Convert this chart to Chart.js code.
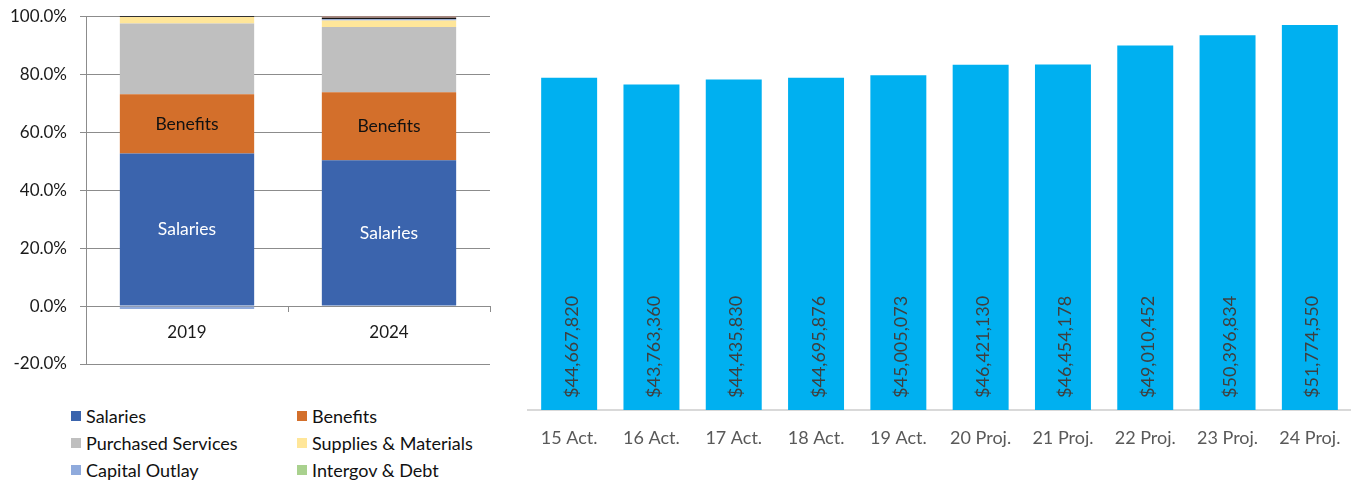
<!DOCTYPE html>
<html>
<head>
<meta charset="utf-8">
<title>Expenditures</title>
<script src="https://cdn.jsdelivr.net/npm/chart.js@4.4.1/dist/chart.umd.min.js"></script>
<style>
  body { margin: 0; width: 1351px; height: 482px; background: #fff; overflow: hidden; position: relative; font-family: Lato, sans-serif; }
  #mixBox { position: absolute; left: 0; top: -7px; width: 500px; height: 396px; }
  #totalBox { position: absolute; left: 500px; top: 0; width: 851px; height: 482px; }
  #mixLegend { position: absolute; left: 71px; top: 402px; display: grid; grid-template-columns: 226px 200px; }
  .item { display: flex; align-items: center; height: 27px; font-size: 18px; color: #111; white-space: nowrap; }
  .sw { width: 10px; height: 10px; margin-right: 5px; flex: none; }
</style>
</head>
<body>
<div id="mixBox"><canvas id="mixChart"></canvas></div>
<div id="mixLegend"></div>
<div id="totalBox"><canvas id="totalChart"></canvas></div>
<script>
// ---- share of spending by object (percent of total) ----
const years = ["2019", "2024"];
const salaries = [52.6, 50.3];
const benefits = [20.5, 23.5];
const purchasedServices = [24.4, 22.5];
const suppliesMaterials = [2.2, 2.2];
const capitalOutlay = [-1.0, 0.45];
const otherObjects = [0.5, 0.55];
const transfers = [0.0, 0.5];
const intergovDebt = [0.8, 0.0];
const pctTicks = [-20, 0, 20, 40, 60, 80, 100];

// ---- total expenditures by year ----
const periods = ["15 Act.", "16 Act.", "17 Act.", "18 Act.", "19 Act.",
                 "20 Proj.", "21 Proj.", "22 Proj.", "23 Proj.", "24 Proj."];
const expenditures = [44667820, 43763360, 44435830, 44695876, 45005073,
                      46421130, 46454178, 49010452, 50396834, 51774550];

Chart.defaults.font.family = "Lato, sans-serif";
Chart.defaults.animation = false;

// text inside bars: centred names on the left chart, rotated amounts on the right
const barText = {
  id: "barText",
  afterDatasetsDraw(chart, args, opts) {
    const ctx = chart.ctx;
    ctx.save();
    chart.data.datasets.forEach((ds, i) => {
      if (!ds.textColor) return;
      const meta = chart.getDatasetMeta(i);
      meta.data.forEach((bar, j) => {
        ctx.fillStyle = ds.textColor;
        ctx.font = opts.size + "px Lato, sans-serif";
        if (opts.mode === "center") {
          ctx.textAlign = "center";
          ctx.textBaseline = "middle";
          ctx.fillText(ds.label, bar.x, (bar.y + bar.base) / 2);
        } else {
          ctx.save();
          ctx.translate(bar.x + 8.5, bar.base - 12);
          ctx.rotate(-Math.PI / 2);
          ctx.textAlign = "left";
          ctx.textBaseline = "alphabetic";
          ctx.fillText("$" + ds.data[j].toLocaleString("en-US"), 0, 0);
          ctx.restore();
        }
      });
    });
    ctx.restore();
  }
};

const mixSeries = [
  { label: "Salaries", data: salaries, backgroundColor: "#3b64ad", textColor: "#ffffff" },
  { label: "Benefits", data: benefits, backgroundColor: "#d36f2b", textColor: "#111111" },
  { label: "Purchased Services", data: purchasedServices, backgroundColor: "#bfbfbf" },
  { label: "Supplies & Materials", data: suppliesMaterials, backgroundColor: "#ffe699" },
  { label: "Capital Outlay", data: capitalOutlay, backgroundColor: "#8faadc" },
  { label: "Other Objects", data: otherObjects, backgroundColor: "#151515", hideKey: true },
  { label: "Transfers", data: transfers, backgroundColor: "#b8877a", hideKey: true },
  { label: "Intergov & Debt", data: intergovDebt, backgroundColor: "#a9d18e" }
];

new Chart(document.getElementById("mixChart"), {
  type: "bar",
  data: {
    labels: years,
    datasets: mixSeries.map(s => ({
      label: s.label,
      data: s.data,
      backgroundColor: s.backgroundColor,
      textColor: s.textColor,
      borderWidth: 0,
      barPercentage: 1,
      categoryPercentage: 0.665
    }))
  },
  options: {
    responsive: true,
    maintainAspectRatio: false,
    layout: { padding: { top: 5, bottom: 25, left: 0, right: 10 } },
    plugins: {
      legend: { display: false },
      tooltip: { enabled: false },
      barText: { mode: "center", size: 17.5 }
    },
    scales: {
      x: {
        stacked: true,
        position: { y: 0 },
        grid: { offset: true, drawOnChartArea: false, color: "#8c8c8c", tickLength: 5 },
        border: { color: "#8c8c8c" },
        ticks: { color: "#1a1a1a", padding: 11, font: { size: 17 } }
      },
      y: {
        stacked: true,
        min: -20,
        max: 100,
        afterBuildTicks: s => { s.ticks = pctTicks.map(v => ({ value: v })); },
        afterFit: s => { s.width = 86; },
        grid: { color: "#8c8c8c", tickLength: 6 },
        border: { color: "#8c8c8c" },
        ticks: { color: "#1a1a1a", padding: 13, font: { size: 17 },
                 callback: v => v.toFixed(1) + "%" }
      }
    }
  },
  plugins: [barText]
});

// legend in two columns
const legendEl = document.getElementById("mixLegend");
mixSeries.filter(s => !s.hideKey).forEach(s => {
  const item = document.createElement("div");
  item.className = "item";
  item.innerHTML = '<span class="sw" style="background:' + s.backgroundColor + '"></span>' + s.label.replace("&", "&amp;");
  legendEl.appendChild(item);
});

new Chart(document.getElementById("totalChart"), {
  type: "bar",
  data: {
    labels: periods,
    datasets: [{
      label: "Total Expenditures",
      data: expenditures,
      backgroundColor: "#00b0f0",
      textColor: "#3f3f3f",
      borderWidth: 0,
      barPercentage: 1,
      categoryPercentage: 0.68
    }]
  },
  options: {
    responsive: true,
    maintainAspectRatio: false,
    layout: { padding: { top: 1, bottom: 0, left: 28, right: 0 } },
    plugins: {
      legend: { display: false },
      tooltip: { enabled: false },
      barText: { mode: "rotated", size: 18 }
    },
    scales: {
      x: {
        grid: { display: false },
        border: { color: "#d9d9d9", width: 2 },
        afterFit: s => { s.height = 72; },
        ticks: { color: "#595959", padding: 9, font: { size: 18 } }
      },
      y: {
        display: false,
        min: 0,
        max: 55000000
      }
    }
  },
  plugins: [barText]
});
</script>
</body>
</html>
